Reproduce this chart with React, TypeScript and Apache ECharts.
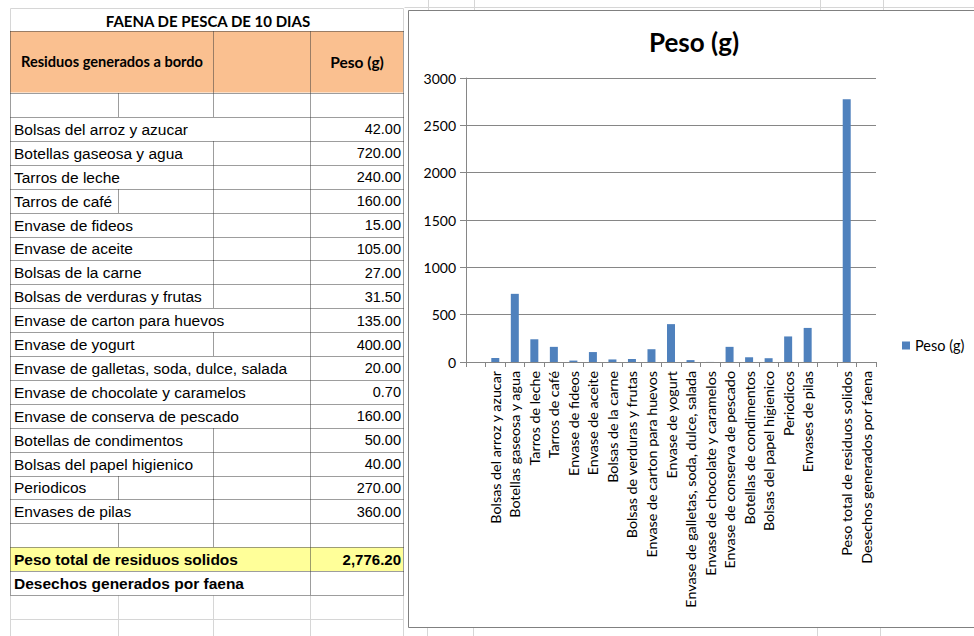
import React, { useEffect, useRef } from 'react';
import * as echarts from 'echarts';

// ---------- data ----------
const sheetTitle = 'FAENA DE PESCA DE 10 DIAS';
const headerItem = 'Residuos generados a bordo';
const headerWeight = 'Peso (g)';
const items = [
  'Bolsas del arroz y azucar',
  'Botellas gaseosa y agua',
  'Tarros de leche',
  'Tarros de café',
  'Envase de fideos',
  'Envase de aceite',
  'Bolsas de la carne',
  'Bolsas de verduras y frutas',
  'Envase de carton para huevos',
  'Envase de yogurt',
  'Envase de galletas, soda, dulce, salada',
  'Envase de chocolate y caramelos',
  'Envase de conserva de pescado',
  'Botellas de condimentos',
  'Bolsas del papel higienico',
  'Periodicos',
  'Envases de pilas',
];
const weights = [42, 720, 240, 160, 15, 105, 27, 31.5, 135, 400, 20, 0.7, 160, 50, 40, 270, 360];
const totalLabel = 'Peso total de residuos solidos';
const totalWeight = 2776.2;
const faenaLabel = 'Desechos generados por faena';
const chartTitle = 'Peso (g)';
const seriesName = 'Peso (g)';
const yTicks = [0, 500, 1000, 1500, 2000, 2500, 3000];

// ---------- layout / style ----------
const FONT_CAL = 'Lato, "Open Sans", sans-serif';
const FONT_ARIAL = '"Liberation Sans", Arial, sans-serif';
const X0 = 10, XB = 118, XC = 213, XD = 310, X1 = 403;
const Y_TITLE = 8, Y_HEAD = 31, Y_HEAD_B = 92.5, Y_ROWS = 117, ROW_H = 23.9;
const DOT = '#3a3a3a';
const GRIDC = '#d6d6d6';
const B1_ROWS = new Set([3, 15, 17]);
const B2_ROWS = new Set([1, 2, 3, 4, 5, 6, 7, 9, 13, 14, 15, 16, 17]);

const fmt = (v: number) =>
  v.toLocaleString('en-US', { minimumFractionDigits: 2, maximumFractionDigits: 2 });

const px = (v: number) => Math.round(v) + 0.5;

function line(x1: number, y1: number, x2: number, y2: number, stroke: string, dashed: boolean, z = 1) {
  return {
    type: 'line',
    silent: true,
    z,
    shape: { x1, y1, x2, y2 },
    style: { stroke, lineWidth: 1, lineDash: dashed ? [1, 1] : null },
  };
}

function txt(x: number, y: number, text: string, font: string, align: string) {
  return {
    type: 'text',
    silent: true,
    z: 3,
    x,
    y,
    style: { text, font, fill: '#000', textAlign: align, textVerticalAlign: 'middle' },
  };
}

function buildSheet() {
  const els: any[] = [];
  // spreadsheet background gridlines (outside the table / chart)
  els.push(line(px(X0), px(Y_TITLE), px(X1), px(Y_TITLE), GRIDC, false, -20));
  els.push(line(px(X0), px(Y_TITLE), px(X0), px(Y_HEAD), GRIDC, false, -20));
  els.push(line(px(X1), px(Y_TITLE), px(X1), px(Y_HEAD), GRIDC, false, -20));
  els.push(line(404.5, 7.5, 974, 7.5, GRIDC, false, -20));
  [428, 474, 820, 883].forEach((x) => els.push(line(px(x), 0, px(x), 12, GRIDC, false, -20)));
  [427, 473, 817, 880].forEach((x) => els.push(line(px(x), 626, px(x), 636, GRIDC, false, -20)));
  const tableBottom = Y_ROWS + 20 * ROW_H;
  [X0, XB, XC, XD, X1].forEach((x) => els.push(line(px(x), px(tableBottom), px(x), 636, GRIDC, false, -20)));
  els.push(line(px(X0), px(tableBottom + ROW_H), px(X1), px(tableBottom + ROW_H), GRIDC, false, -20));

  // fills
  els.push({
    type: 'rect', silent: true, z: 0,
    shape: { x: X0, y: Y_HEAD, width: X1 - X0, height: Y_HEAD_B - Y_HEAD },
    style: { fill: '#FAC090' },
  });
  const totalTop = Y_ROWS + 18 * ROW_H;
  els.push({
    type: 'rect', silent: true, z: 0,
    shape: { x: X0, y: totalTop, width: X1 - X0, height: ROW_H },
    style: { fill: '#FFFF99' },
  });

  // horizontal dotted borders
  const hs = [Y_HEAD, Y_HEAD_B, Y_ROWS];
  for (let i = 1; i <= 20; i++) hs.push(Y_ROWS + i * ROW_H);
  hs.forEach((y) => els.push(line(px(X0), px(y), px(X1), px(y), DOT, true, 2)));
  // outer verticals and column D
  [X0, XD, X1].forEach((x) => els.push(line(px(x), px(Y_HEAD), px(x), px(tableBottom), DOT, true, 2)));
  // header: column C left border
  els.push(line(px(XC), px(Y_HEAD), px(XC), px(Y_ROWS), DOT, true, 2));
  els.push(line(px(XB), px(Y_HEAD_B), px(XB), px(Y_ROWS), DOT, true, 2));
  // data rows internal dividers
  for (let i = 0; i < 18; i++) {
    const t = Y_ROWS + i * ROW_H;
    if (B1_ROWS.has(i)) els.push(line(px(XB), px(t), px(XB), px(t + ROW_H), DOT, true, 2));
    if (B2_ROWS.has(i)) els.push(line(px(XC), px(t), px(XC), px(t + ROW_H), DOT, true, 2));
  }

  // texts
  els.push(txt(208, (Y_TITLE + Y_HEAD) / 2 + 1, sheetTitle, `bold 15px ${FONT_CAL}`, 'center'));
  els.push(txt(112, (Y_HEAD + Y_HEAD_B) / 2, headerItem, `bold 14.6px ${FONT_CAL}`, 'center'));
  els.push(txt(357, (Y_HEAD + Y_HEAD_B) / 2, headerWeight, `bold 15.5px ${FONT_CAL}`, 'center'));

  items.forEach((name, i) => {
    const cy = Y_ROWS + i * ROW_H + ROW_H / 2 + 0.5;
    els.push(txt(14, cy, name, `15.5px ${FONT_ARIAL}`, 'left'));
    els.push(txt(401, cy, fmt(weights[i]), `14.5px ${FONT_ARIAL}`, 'right'));
  });
  const tcy = totalTop + ROW_H / 2 + 0.5;
  els.push(txt(14, tcy, totalLabel, `bold 15.5px ${FONT_ARIAL}`, 'left'));
  els.push(txt(401, tcy, fmt(totalWeight), `bold 15px ${FONT_ARIAL}`, 'right'));
  els.push(txt(14, tcy + ROW_H, faenaLabel, `bold 15.5px ${FONT_ARIAL}`, 'left'));

  // chart frame
  els.push({
    type: 'rect', silent: true, z: -5,
    shape: { x: 408.5, y: 10.5, width: 620, height: 617 },
    style: { fill: '#ffffff', stroke: '#808080', lineWidth: 1 },
  });
  return els;
}

const categories = ['', ...items, '', totalLabel, faenaLabel];
const values: (number | null)[] = [null, ...weights, null, totalWeight, null];

export default function App() {
  const ref = useRef<HTMLDivElement>(null);
  useEffect(() => {
    if (!ref.current) return;
    const chart = echarts.init(ref.current, null, { renderer: 'svg' });
    chart.setOption({
      animation: false,
      backgroundColor: '#ffffff',
      title: {
        text: chartTitle,
        left: 694,
        top: 29,
        textAlign: 'center',
        padding: 0,
        textStyle: { fontSize: 26, fontWeight: 'bold', fontFamily: FONT_CAL, color: '#000' },
      },
      legend: {
        data: [seriesName],
        left: 902,
        top: 338,
        padding: 0,
        orient: 'vertical',
        icon: 'rect',
        itemWidth: 8,
        itemHeight: 8,
        textStyle: { fontSize: 14.5, fontFamily: FONT_CAL, color: '#000' },
      },
      grid: { left: 466, top: 78, width: 410, height: 284, containLabel: false, outerBoundsMode: 'none' },
      xAxis: {
        type: 'category',
        data: categories,
        axisLine: { lineStyle: { color: '#868686' } },
        axisTick: { show: true, length: 5, lineStyle: { color: '#868686' } },
        axisLabel: { interval: 0, rotate: 90, fontSize: 14.3, fontFamily: FONT_CAL, color: '#000', margin: 9 },
        splitLine: { show: false },
      },
      yAxis: {
        type: 'value',
        min: yTicks[0],
        max: yTicks[yTicks.length - 1],
        interval: yTicks[1] - yTicks[0],
        axisLine: { show: true, lineStyle: { color: '#868686' } },
        axisTick: { show: true, length: 6, lineStyle: { color: '#868686' } },
        axisLabel: {
          fontSize: 14,
          fontFamily: FONT_CAL,
          color: '#000',
          margin: 10,
          formatter: (v: number) => String(v),
        },
        splitLine: { lineStyle: { color: '#868686' } },
      },
      series: [
        {
          name: seriesName,
          type: 'bar',
          data: values,
          barWidth: 8,
          itemStyle: { color: '#4F81BD' },
        },
      ],
      graphic: { elements: buildSheet() },
    });
    return () => chart.dispose();
  }, []);
  return (
    <div
      ref={ref}
      style={{ position: 'fixed', left: 0, top: 0, width: 974, height: 636, background: '#fff' }}
    />
  );
}
